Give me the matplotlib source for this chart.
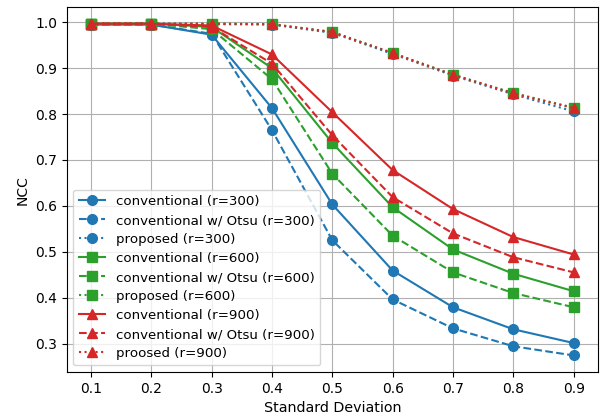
import matplotlib
matplotlib.use("Agg")
import matplotlib.pyplot as plt

# standard deviation of the added noise
sigma = [0.1, 0.2, 0.3, 0.4, 0.5, 0.6, 0.7, 0.8, 0.9]

# NCC, r=300
conv_300 = [0.995, 0.995, 0.973, 0.813, 0.603, 0.459, 0.379, 0.331, 0.301]
otsu_300 = [0.995, 0.995, 0.975, 0.765, 0.525, 0.396, 0.333, 0.294, 0.274]
prop_300 = [0.996, 0.997, 0.996, 0.995, 0.977, 0.931, 0.884, 0.843, 0.806]

# NCC, r=600
conv_600 = [0.997, 0.997, 0.990, 0.900, 0.737, 0.597, 0.505, 0.452, 0.414]
otsu_600 = [0.997, 0.997, 0.985, 0.876, 0.670, 0.535, 0.455, 0.410, 0.379]
prop_600 = [0.997, 0.997, 0.997, 0.996, 0.979, 0.933, 0.886, 0.846, 0.814]

# NCC, r=900
conv_900 = [0.997, 0.997, 0.993, 0.930, 0.804, 0.678, 0.593, 0.532, 0.494]
otsu_900 = [0.997, 0.997, 0.990, 0.910, 0.754, 0.619, 0.540, 0.488, 0.455]
prop_900 = [0.997, 0.997, 0.997, 0.996, 0.979, 0.933, 0.886, 0.845, 0.813]

fig = plt.figure(figsize=(6.02, 4.18), dpi=100)
ax = fig.add_axes([0.111, 0.110, 0.882, 0.873])

series = [
    (conv_300, "C0", "o", "-", "conventional (r=300)"),
    (otsu_300, "C0", "o", "--", "conventional w/ Otsu (r=300)"),
    (prop_300, "C0", "o", ":", "proposed (r=300)"),
    (conv_600, "C2", "s", "-", "conventional (r=600)"),
    (otsu_600, "C2", "s", "--", "conventional w/ Otsu (r=600)"),
    (prop_600, "C2", "s", ":", "proposed (r=600)"),
    (conv_900, "C3", "^", "-", "conventional (r=900)"),
    (otsu_900, "C3", "^", "--", "conventional w/ Otsu (r=900)"),
    (prop_900, "C3", "^", ":", "proosed (r=900)"),
]
for vals, color, marker, ls, label in series:
    ax.plot(sigma, vals, color=color, marker=marker, linestyle=ls,
            markersize=7, linewidth=1.5, label=label)

ax.set_xticks(sigma)
ax.set_xlabel("Standard Deviation", fontsize=10.3)
ax.set_ylabel("NCC")
ax.grid(True)
ax.legend(loc="lower left", fontsize=9.6, labelspacing=0.45)

fig.savefig("out.png", dpi=100)
